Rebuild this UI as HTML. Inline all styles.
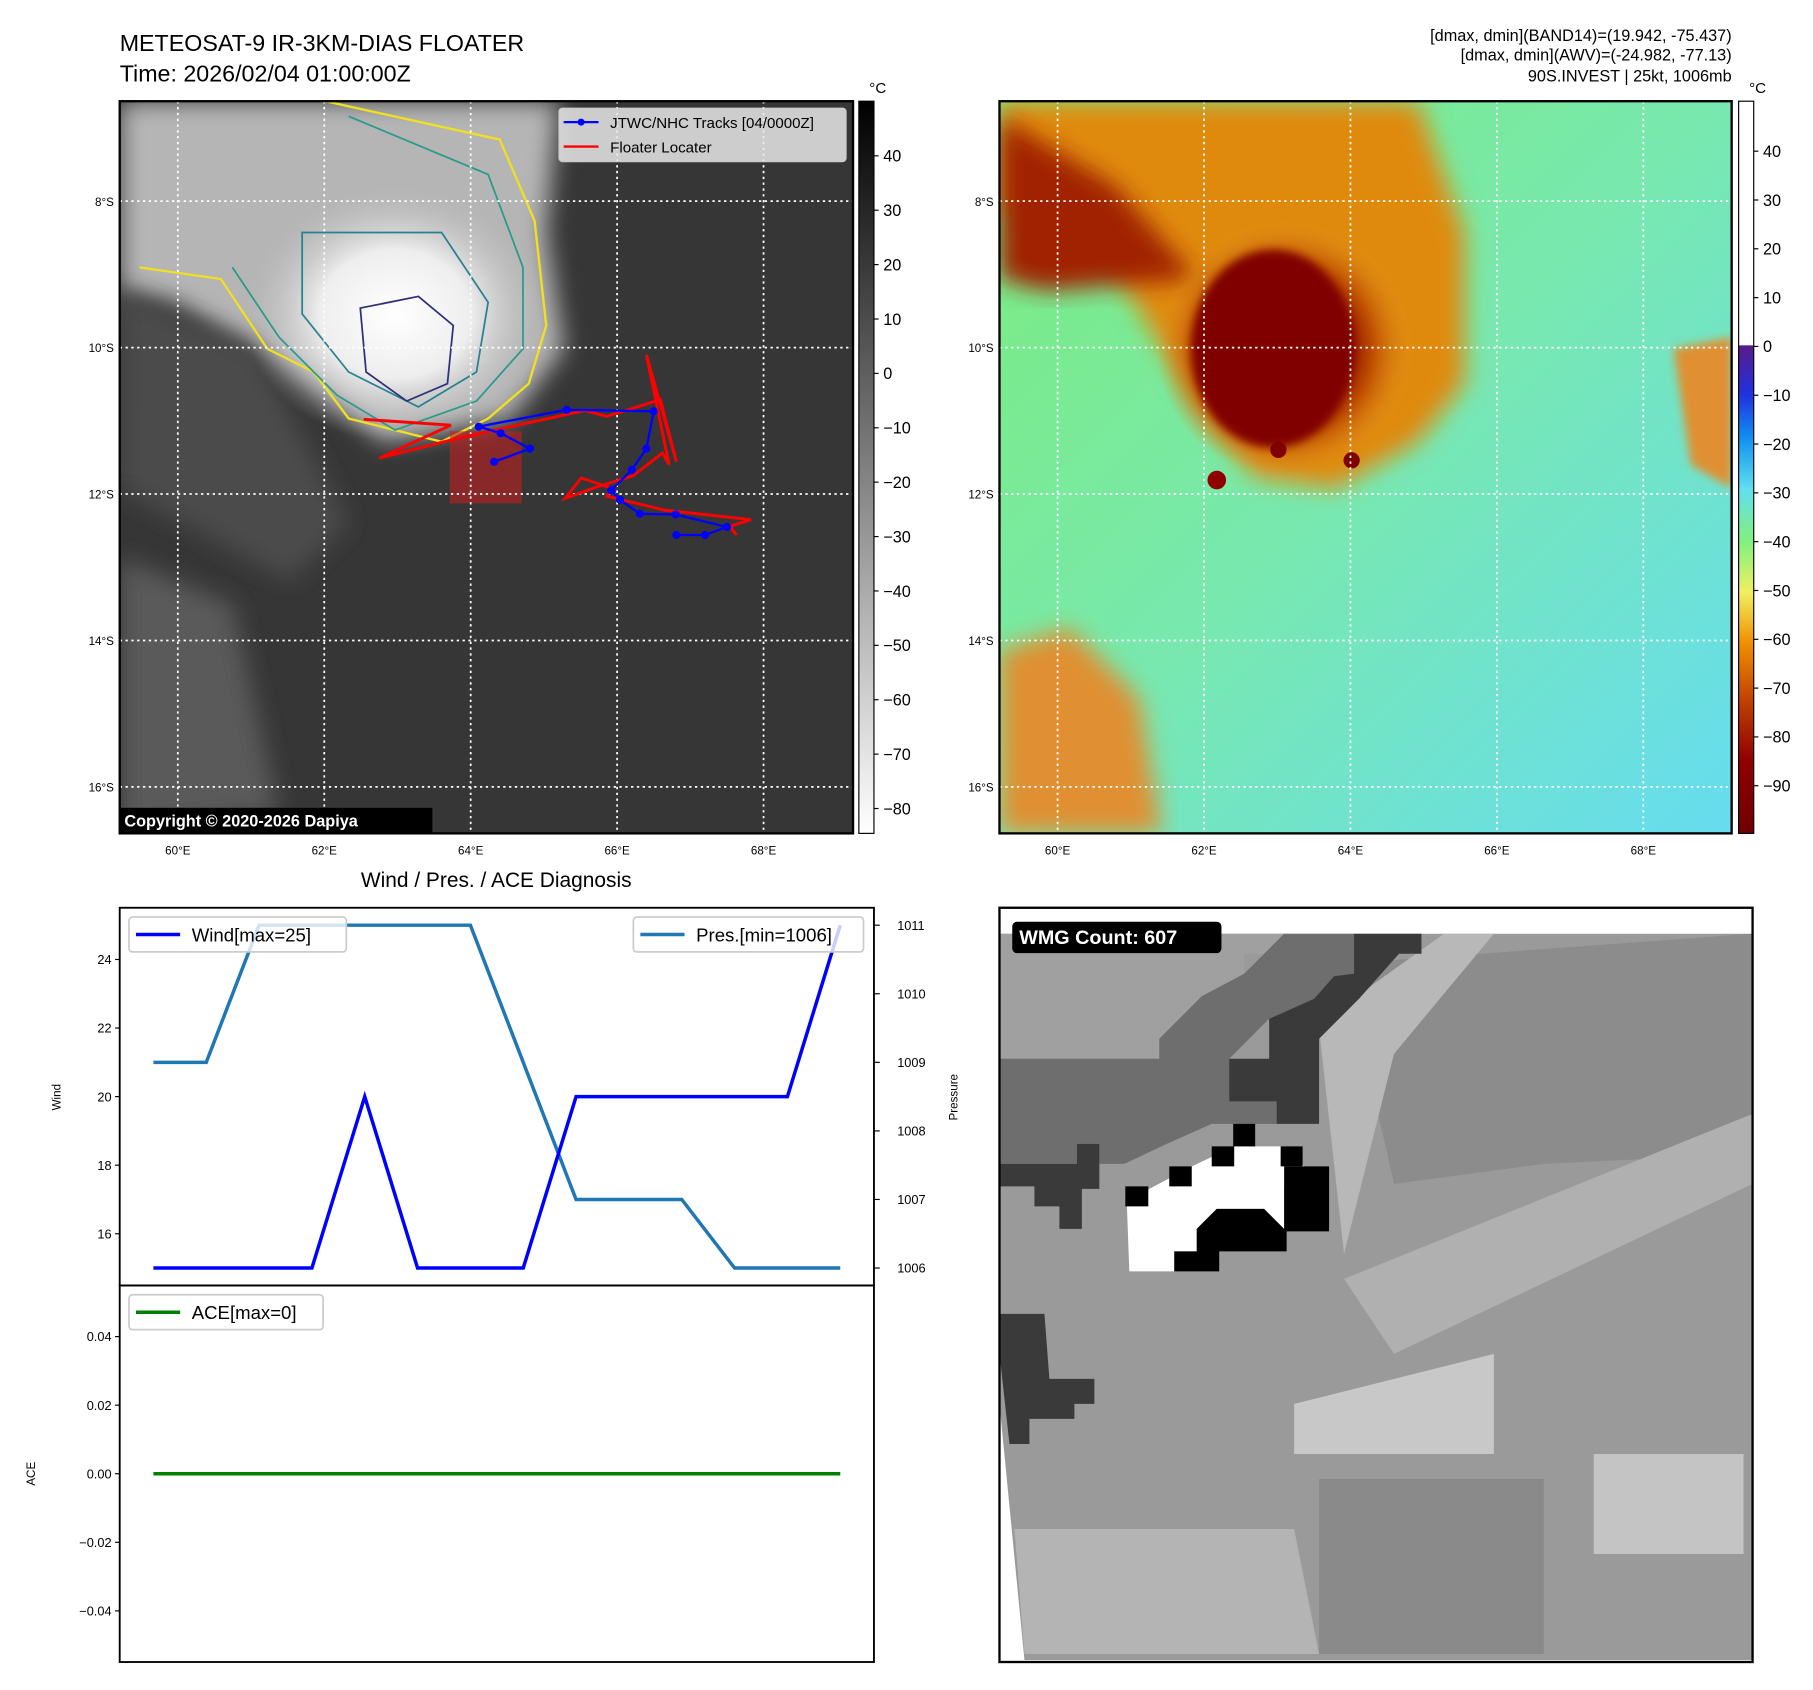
<!DOCTYPE html>
<html><head><meta charset="utf-8"><style>
html,body{margin:0;padding:0;background:#fff}
svg{display:block;font-family:"Liberation Sans","DejaVu Sans",sans-serif}
</style></head><body>
<svg id="fig" xmlns="http://www.w3.org/2000/svg" width="1813" height="1690" viewBox="0 0 1560 1454">
<defs>
<linearGradient id="gcb" x1="0" y1="0" x2="0" y2="1"><stop offset="0" stop-color="#000"/><stop offset="1" stop-color="#fff"/></linearGradient>
<linearGradient id="ccb" x1="0" y1="0" x2="0" y2="1">
<stop offset="0" stop-color="#fff"/><stop offset="0.333" stop-color="#fff"/><stop offset="0.334" stop-color="#5a1a8a"/>
<stop offset="0.40" stop-color="#2030e0"/><stop offset="0.46" stop-color="#1090f0"/><stop offset="0.53" stop-color="#60e0f0"/>
<stop offset="0.60" stop-color="#80f080"/><stop offset="0.67" stop-color="#f0f060"/><stop offset="0.74" stop-color="#f09000"/>
<stop offset="0.82" stop-color="#c04000"/><stop offset="0.90" stop-color="#900000"/><stop offset="1" stop-color="#700000"/></linearGradient>
<radialGradient id="cloud" cx="0.5" cy="0.5" r="0.5"><stop offset="0" stop-color="#fff"/><stop offset="0.5" stop-color="#eee"/><stop offset="1" stop-color="#bbb" stop-opacity="0"/></radialGradient>
<radialGradient id="blob" cx="0.5" cy="0.5" r="0.5"><stop offset="0" stop-color="#800000"/><stop offset="0.45" stop-color="#850000"/><stop offset="0.7" stop-color="#c05000"/><stop offset="1" stop-color="#e09020" stop-opacity="0"/></radialGradient>
<linearGradient id="rbg" x1="0" y1="0" x2="1" y2="1"><stop offset="0" stop-color="#7cec7c"/><stop offset="0.5" stop-color="#78e8b0"/><stop offset="1" stop-color="#66dcf0"/></linearGradient>
<filter id="bl"><feGaussianBlur stdDeviation="10"/></filter>
<filter id="bl2"><feGaussianBlur stdDeviation="4"/></filter>
<clipPath id="clipL"><rect x="103" y="87" width="631" height="630"/></clipPath>
<clipPath id="clipR"><rect x="860" y="87" width="630" height="630"/></clipPath>
<clipPath id="clipW"><rect x="860" y="781" width="648" height="649"/></clipPath>
</defs>

<text x="103" y="44" font-size="20">METEOSAT-9 IR-3KM-DIAS FLOATER</text>
<text x="103" y="70" font-size="20">Time: 2026/02/04 01:00:00Z</text>
<g font-size="14" text-anchor="end">
<text x="1490" y="35">[dmax, dmin](BAND14)=(19.942, -75.437)</text>
<text x="1490" y="52">[dmax, dmin](AWV)=(-24.982, -77.13)</text>
<text x="1490" y="70">90S.INVEST | 25kt, 1006mb</text>
</g>

<g clip-path="url(#clipL)">
<rect x="103" y="87" width="631" height="630" fill="#363636"/>
<path d="M103,87 L480,87 L470,200 L485,300 L440,360 L330,380 L270,330 L220,300 L150,260 L103,250 Z" fill="#b5b5b5" filter="url(#bl)"/>
<path d="M103,480 L200,520 L240,700 L103,717 Z" fill="#5a5a5a" filter="url(#bl)"/>
<path d="M103,250 L220,300 L300,450 L250,500 L103,420 Z" fill="#4c4c4c" filter="url(#bl)"/>
<ellipse cx="340" cy="270" rx="130" ry="110" fill="url(#cloud)"/>
<path d="M280,87 L430,120 L460,190 L470,280 L455,330 L420,360 L380,380 L300,360 L270,320 L230,300 L190,240 L120,230" fill="none" stroke="#f0e020" stroke-width="2"/>
<path d="M300,100 L420,150 L450,230 L450,300 L410,345 L340,370 L290,340 L240,290 L200,230" fill="none" stroke="#2a9a8a" stroke-width="1.5"/>
<path d="M260,200 L380,200 L420,260 L410,320 L360,350 L300,320 L260,270 Z" fill="none" stroke="#2a8090" stroke-width="1.5"/>
<path d="M310,265 L360,255 L390,280 L385,330 L350,345 L315,320 Z" fill="none" stroke="#30307a" stroke-width="1.5"/>
<rect x="387" y="371" width="62" height="62" fill="#c02020" fill-opacity="0.6"/>
</g>
<g id="gridL" stroke="#fff" stroke-width="1.5" stroke-dasharray="2,3"></g>
<path id="redTrack" fill="none" stroke="#ff0000" stroke-width="2.5"/>
<g id="blueTrack"></g>
<rect x="103" y="87" width="631" height="630" fill="none" stroke="#000" stroke-width="2"/>
<g>
<rect x="481" y="93" width="247" height="46" rx="3" fill="#e8e8e8" fill-opacity="0.85" stroke="#ccc"/>
<line x1="485" y1="105" x2="515" y2="105" stroke="#0000ff" stroke-width="2"/><circle cx="500" cy="105" r="3" fill="#0000ff"/>
<text x="525" y="110" font-size="13">JTWC/NHC Tracks [04/0000Z]</text>
<line x1="485" y1="126" x2="515" y2="126" stroke="#ff0000" stroke-width="2"/>
<text x="525" y="131" font-size="13">Floater Locater</text>
</g>
<g><rect x="103" y="695" width="269" height="22" fill="#000"/>
<text x="107" y="711" font-size="14" font-weight="bold" fill="#fff">Copyright © 2020-2026 Dapiya</text></g>
<g id="lonL" font-size="10" text-anchor="middle"></g>
<g id="latL" font-size="10" text-anchor="end"></g>
<rect x="739" y="87" width="13" height="630" fill="url(#gcb)" stroke="#000"/>
<text x="748" y="80" font-size="13">°C</text>
<g id="cbL" font-size="14"></g>

<g clip-path="url(#clipR)">
<rect x="860" y="87" width="630" height="630" fill="url(#rbg)"/>
<path d="M860,87 L1220,87 L1260,200 L1260,330 L1220,380 L1150,420 L1080,410 L1040,360 L1000,300 L940,200 L860,180 Z" fill="#e08a10" filter="url(#bl)"/>
<path d="M860,100 L960,160 L1030,240 L900,250 L860,240 Z" fill="#a02000" filter="url(#bl)"/>
<ellipse cx="1105" cy="300" rx="110" ry="110" fill="url(#blob)"/>
<ellipse cx="1095" cy="300" rx="70" ry="85" fill="#800000" filter="url(#bl2)"/>
<path d="M860,560 L920,540 L980,600 L1000,717 L860,717 Z" fill="#e09030" filter="url(#bl)"/>
<path d="M1440,300 L1490,290 L1490,420 L1455,400 Z" fill="#e09030" filter="url(#bl2)"/>
<circle cx="1100" cy="387" r="7" fill="#800000"/><circle cx="1163" cy="396" r="7" fill="#800000"/><circle cx="1047" cy="413" r="8" fill="#900000"/>
</g>
<g id="gridR" stroke="#fff" stroke-width="1.5" stroke-dasharray="2,3"></g>
<rect x="860" y="87" width="630" height="630" fill="none" stroke="#000" stroke-width="2"/>
<g id="lonR" font-size="10" text-anchor="middle"></g>
<g id="latR" font-size="10" text-anchor="end"></g>
<rect x="1496" y="87" width="13" height="630" fill="url(#ccb)" stroke="#000"/>
<text x="1505" y="80" font-size="13">°C</text>
<g id="cbR" font-size="14"></g>

<text x="427" y="763" font-size="18" text-anchor="middle">Wind / Pres. / ACE Diagnosis</text>
<g id="chart"></g>

<g clip-path="url(#clipW)">
<rect x="860" y="781" width="648" height="649" fill="#fff"/>
<g id="wmg"></g>
</g>
<rect x="860" y="781" width="648" height="649" fill="none" stroke="#000" stroke-width="2"/>
<g><rect x="871" y="793" width="180" height="27" rx="4" fill="#000"/>
<text x="877" y="812" font-size="17" font-weight="bold" fill="#fff">WMG Count: 607</text></g>
</svg>
<script>
const timeIdx = [0,1,2,3,4,5,6,7,8,9,10,11,12,13];
const windValues = [15,15,15,15,20,15,15,15,20,20,20,20,20,25];
const presValues = [1009,1009,1011,1011,1011,1011,1011,1009,1007,1007,1007,1006,1006,1006];
const aceValues = [0,0,0,0,0,0,0,0,0,0,0,0,0,0];
const windTicks = [16,18,20,22,24];
const presTicks = [1006,1007,1008,1009,1010,1011];
const aceTicks = [0.04,0.02,0.00,-0.02,-0.04];
const aceTickLabels = ["0.04","0.02","0.00","\u22120.02","\u22120.04"];
const trackLon = [66.81,67.20,67.50,66.80,66.31,66.04,65.92,66.20,66.40,66.50,65.31,64.11,64.41,64.81,64.32];
const trackLat = [12.56,12.56,12.45,12.28,12.27,12.08,11.95,11.67,11.38,10.87,10.85,11.08,11.17,11.38,11.56];
const floaterLon = [62.54,63.73,62.75,63.90,65.56,65.86,66.59,66.81,66.40,66.71,66.62,66.22,65.73,65.29,65.51,65.92,65.86,66.65,67.83,67.54,67.63];
const floaterLat = [10.98,11.06,11.51,11.22,10.86,10.94,10.71,11.56,10.10,11.60,11.44,11.75,11.90,12.06,11.78,11.92,12.03,12.22,12.35,12.44,12.56];
const lonTicks = [60,62,64,66,68];
const latTicks = [8,10,12,14,16];
const irCbTicks = [40,30,20,10,0,-10,-20,-30,-40,-50,-60,-70,-80];
const awvCbTicks = [40,30,20,10,0,-10,-20,-30,-40,-50,-60,-70,-80,-90];

const NS='http://www.w3.org/2000/svg';
function mk(tag,attrs,parent){const e=document.createElementNS(NS,tag);for(const k in attrs)e.setAttribute(k,attrs[k]);parent.appendChild(e);return e;}
function fmt(v){return v<0?'\u2212'+(-v):''+v;}

const lonX=(lon,x0)=>x0+(lon-60)*63;
const latY=lat=>173+(lat-8)*63;
function maps(x0,left,right,gridId,lonId,latId){
  const g=document.getElementById(gridId);
  lonTicks.forEach(l=>{const e=mk('line',{x1:lonX(l,x0),x2:lonX(l,x0),y1:87,y2:717},g);
    
    
    const t=mk('text',{x:lonX(l,x0),y:735},document.getElementById(lonId));t.textContent=l+'°E';
    
    });
  latTicks.forEach(l=>{const e=mk('line',{x1:left,x2:right,y1:latY(l),y2:latY(l)},g);
    
    
    const t=mk('text',{x:left-5,y:latY(l)+4},document.getElementById(latId));t.textContent=l+'°S';
    
    });
}
maps(153,103,734,'gridL','lonL','latL');
maps(910,860,1490,'gridR','lonR','latR');

document.getElementById('redTrack').setAttribute('d',floaterLon.map((l,i)=>(i?'L':'M')+lonX(l,153)+','+latY(floaterLat[i])).join(' '));
const bt=document.getElementById('blueTrack');
const bp=mk('path',{d:trackLon.map((l,i)=>(i?'L':'M')+lonX(l,153)+','+latY(trackLat[i])).join(' '),fill:'none',stroke:'#0000ff','stroke-width':2},bt);


trackLon.forEach((l,i)=>{const c=mk('circle',{cx:lonX(l,153),cy:latY(trackLat[i]),r:3.5,fill:'#0000ff'},bt);
  
  });

function cb(id,ticks,y40,per10,x){const g=document.getElementById(id);
  ticks.forEach(v=>{const y=y40+(40-v)/10*per10;mk('line',{x1:x,x2:x+4,y1:y,y2:y,stroke:'#000'},g);
    const t=mk('text',{x:x+8,y:y+5},g);t.textContent=fmt(v);
    
    });}
cb('cbL',irCbTicks,134,46.8,752);
cb('cbR',awvCbTicks,130,42,1509);

const ch=document.getElementById('chart');
const X0=103,X1=752,T0=781,T1=1106,B1=1430;
const xs=i=>132+(723-132)*i/(timeIdx.length-1);
const yW=v=>796+(25-v)*29.5;
const yP=v=>796+(1011-v)*59;
const yA=v=>1268-v*2950;
mk('rect',{x:X0,y:T0,width:X1-X0,height:B1-T0,fill:'#fff'},ch);
function poly(vals,yf,color,w,name){const p=mk('polyline',{points:timeIdx.map(i=>xs(i)+','+yf(vals[i])).join(' '),fill:'none',stroke:color,'stroke-width':w},ch);
  
  }
poly(presValues,yP,'#1f77b4',3,'pressure-line');
poly(windValues,yW,'#0000ff',3,'wind-line');
poly(aceValues,yA,'#008000',3,'ace-line');
mk('rect',{x:X0,y:T0,width:X1-X0,height:T1-T0,fill:'none',stroke:'#000','stroke-width':1.6},ch);
mk('rect',{x:X0,y:T1,width:X1-X0,height:B1-T1,fill:'none',stroke:'#000','stroke-width':1.6},ch);
windTicks.forEach(v=>{mk('line',{x1:X0-4,x2:X0,y1:yW(v),y2:yW(v),stroke:'#000'},ch);const t=mk('text',{x:X0-7,y:yW(v)+4,'font-size':11,'text-anchor':'end'},ch);t.textContent=v;
  
  });
presTicks.forEach(v=>{mk('line',{x1:X1,x2:X1+5,y1:yP(v),y2:yP(v),stroke:'#000'},ch);const t=mk('text',{x:X1+20,y:yP(v)+4,'font-size':11},ch);t.textContent=v;
  
  });
aceTicks.forEach((v,i)=>{mk('line',{x1:X0-4,x2:X0,y1:yA(v),y2:yA(v),stroke:'#000'},ch);const t=mk('text',{x:X0-7,y:yA(v)+4,'font-size':11,'text-anchor':'end'},ch);t.textContent=aceTickLabels[i];
  
  });
function rot(txt,x,y,name){const t=mk('text',{x:x,y:y,'font-size':10,'text-anchor':'middle',transform:`rotate(-90 ${x} ${y})`},ch);t.textContent=txt;
  
  }
rot('Wind',52,944,'wind-axis-title');rot('Pressure',824,944,'pressure-axis-title');rot('ACE',30,1268,'ace-axis-title');
function leg(x,y,w,color,txt,name){const g=mk('g',{},ch);
  
  
  mk('rect',{x:x,y:y,width:w,height:30,rx:3,fill:'#fff','fill-opacity':0.8,stroke:'#ccc','stroke-width':1.5},g);
  mk('line',{x1:x+6,x2:x+44,y1:y+15,y2:y+15,stroke:color,'stroke-width':3},g);
  const t=mk('text',{x:x+54,y:y+21,'font-size':16},g);t.textContent=txt;}
leg(111,789,187,'#0000ff','Wind[max=25]','wind-legend');
leg(545,789,198,'#1f77b4','Pres.[min=1006]','pressure-legend');
leg(111,1114,167,'#008000','ACE[max=0]','ace-legend');

const W=document.getElementById('wmg');
const tx=zx=>860+(zx-10)/1508*648, ty=zy=>781+(zy-8)/1508*649;
function pg(pts,fill){mk('polygon',{points:pts.map(p=>tx(p[0])+','+ty(p[1])).join(' '),fill:fill},W);}
pg([[60,60],[1518,60],[1518,1512],[60,1512],[10,1000],[10,60]],'#9a9a9a');
pg([[700,120],[1518,60],[1518,500],[1100,520],[800,560]],'#8c8c8c');
pg([[650,250],[760,160],[900,60],[1000,60],[800,300],[700,700]],'#b8b8b8');
pg([[700,750],[1518,420],[1518,560],[800,900]],'#b0b0b0');
pg([[600,1000],[1000,900],[1000,1100],[600,1100]],'#c8c8c8');
pg([[40,1250],[600,1250],[650,1500],[60,1500]],'#b4b4b4');
pg([[650,1150],[1100,1150],[1100,1500],[650,1500]],'#8a8a8a');
pg([[1200,1100],[1500,1100],[1500,1300],[1200,1300]],'#c4c4c4');
pg([[10,60],[580,60],[580,100],[500,100],[500,140],[415,185],[330,270],[330,310],[10,310]],'#a0a0a0');
pg([[10,310],[330,310],[330,270],[415,185],[500,140],[540,100],[580,60],[720,60],[720,140],[640,190],[550,230],[470,310],[470,395],[565,395],[565,440],[435,440],[345,480],[260,520],[210,520],[210,480],[165,480],[165,520],[10,520]],'#6e6e6e');
pg([[720,60],[855,60],[855,100],[810,100],[770,145],[730,190],[690,230],[650,270],[650,440],[565,440],[565,395],[470,395],[470,310],[550,310],[550,230],[640,190],[680,145],[720,140]],'#3a3a3a');
pg([[10,520],[165,520],[165,480],[210,480],[210,570],[175,570],[175,650],[130,650],[130,605],[80,605],[80,565],[10,565]],'#3a3a3a');
pg([[10,820],[100,820],[110,950],[200,950],[200,1000],[160,1000],[160,1030],[70,1030],[70,1080],[30,1080],[10,900]],'#3a3a3a');
pg([[265,600],[310,570],[395,525],[480,485],[575,485],[620,525],[580,570],[580,650],[540,650],[540,610],[445,610],[405,650],[405,695],[360,695],[360,735],[270,735]],'#ffffff');
pg([[580,525],[670,525],[670,655],[580,655]],'#000');
pg([[445,610],[540,610],[585,655],[585,695],[450,695],[450,735],[360,735],[360,695],[405,695],[405,650]],'#000');
pg([[435,485],[480,485],[480,525],[435,525]],'#000');
pg([[478,440],[522,440],[522,485],[478,485]],'#000');
pg([[350,525],[395,525],[395,565],[350,565]],'#000');
pg([[262,565],[308,565],[308,605],[262,605]],'#000');
pg([[573,485],[617,485],[617,525],[573,525]],'#000');
</script>
</body></html>
